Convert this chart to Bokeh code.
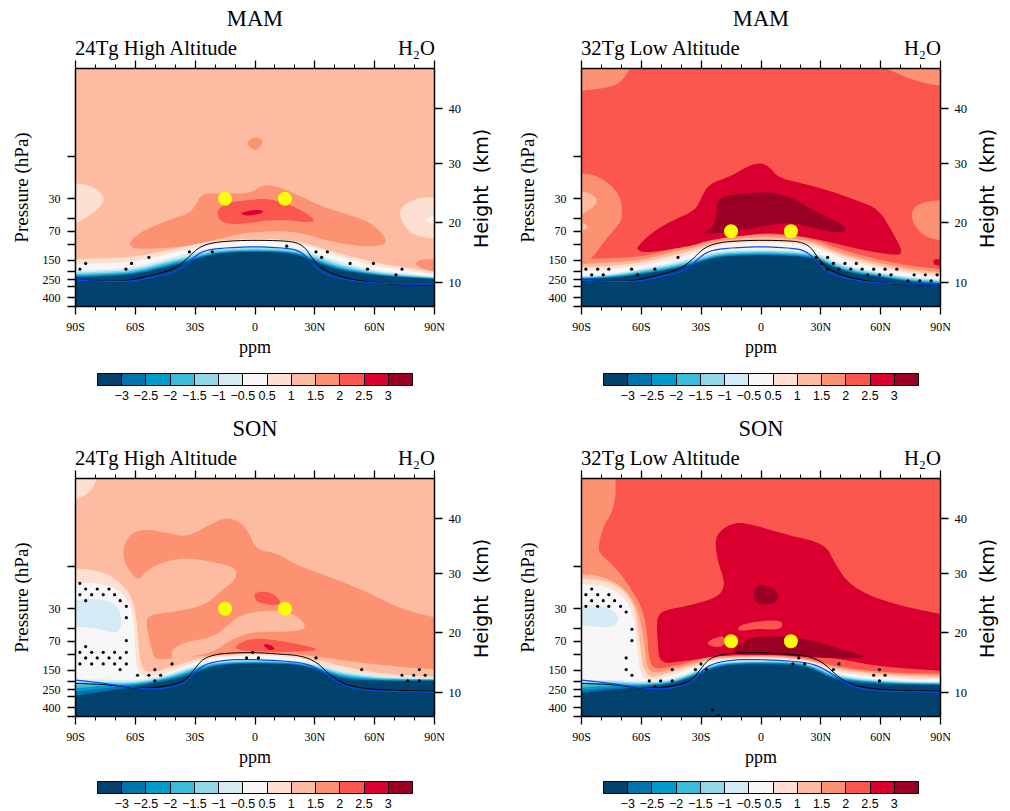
import numpy as np
from bokeh.embed import file_html
from bokeh.resources import INLINE
from bokeh.plotting import figure
from bokeh.layouts import column, row
from bokeh.models import (AllLabels, ColorBar, FixedTicker, Label, LinearAxis, LinearColorMapper, Range1d)

# colour bands: lower bound of each band (ppm), the colours, and the colour-bar labels
BAND_BOUNDS = [-4, -3, -2.5, -2, -1.5, -1, -0.5, 0.5, 1, 1.5, 2, 2.5, 3]
BAND_COLORS = ["#02426f", "#0072ae", "#0099cb", "#3bbcdb", "#92d7e9", "#d2ebf4", "#f7f7f7",
               "#fee0d2", "#fdbba1", "#fc9272", "#fb574f", "#d90030", "#990024"]
BAR_LABELS = ["−3", "−2.5", "−2", "−1.5", "−1", "−0.5", "0.5", "1", "1.5", "2", "2.5", "3"]

LAT_TICKS = [-90, -60, -30, 0, 30, 60, 90]
LAT_LABELS = ["90S", "60S", "30S", "0", "30N", "60N", "90N"]
LAT_MINOR = [-80, -70, -50, -40, -20, -10, 10, 20, 40, 50, 70, 80]
HPA_TICKS = [10, 30, 50, 70, 100, 150, 200, 250, 300, 400, 500]
HPA_LABELS = ["", "30", "", "70", "", "150", "", "250", "", "400", ""]
KM_TICK_HPA = [269, 55.9, 12.05, 2.87]
KM_LABELS = ["10", "20", "30", "40"]
SITE_LATS = [-15, 15]

# contour outlines: latitude (deg) and log10(pressure / hPa)
BAND_LAT = [-90, -75, -60, -45, -35, -28, -20, -10, 0, 10, 20, 28, 35, 45, 60, 75, 90]

MAM_BLACK_LAT = [-90, -77.8, -64.4, -57.7, -49.3, -41, -36, -31.8, -27.6, -20.9, -10.9, 0, 14.2, 20.9, 25.1, 28.4, 32.6, 39.3, 47.7, 59.4, 72.7, 90]
MAM_BLACK_LP = [2.400, 2.415, 2.408, 2.377, 2.332, 2.276, 2.200, 2.105, 2.022, 1.973, 1.954, 1.947, 1.954, 1.973, 2.030, 2.143, 2.257, 2.332, 2.389, 2.427, 2.453, 2.453]
MAM_BLUE_LAT = [-90, -77.8, -61, -52.7, -41, -36, -30.9, -25.9, -17.6, 0, 15.9, 22.6, 28.4, 33.4, 41, 52.7, 64.4, 76.1, 90]
MAM_BLUE_LP = [2.400, 2.415, 2.415, 2.370, 2.313, 2.257, 2.143, 2.068, 2.037, 2.019, 2.037, 2.068, 2.200, 2.313, 2.377, 2.419, 2.438, 2.446, 2.446]
SON_BLACK_LAT = [-90, -77.8, -67.7, -59.4, -49.3, -39.3, -34.3, -30.1, -25.9, -19.2, -10.9, 0, 12.5, 22.6, 30.9, 37.6, 44.3, 52.7, 64.4, 90]
SON_BLACK_LP = [2.325, 2.332, 2.355, 2.381, 2.370, 2.332, 2.279, 2.155, 2.041, 1.992, 1.977, 1.973, 1.992, 2.007, 2.079, 2.230, 2.332, 2.374, 2.400, 2.412]
SON_BLUE_LAT = [-90, -81.1, -69.4, -57.7, -47.7, -37.6, -32.6, -27.6, -20.9, -10.9, 0, 14.2, 25.9, 34.3, 41, 49.3, 59.4, 90]
SON_BLUE_LP = [2.287, 2.306, 2.344, 2.381, 2.389, 2.344, 2.268, 2.136, 2.079, 2.053, 2.053, 2.068, 2.098, 2.192, 2.306, 2.381, 2.412, 2.423]

# ---- MAM 24Tg High Altitude
mam24_regions = [
    (0.5, [-90, -84.4, -79.4, -76, -75.8, -78.6, -83.6, -90], [1.300, 1.319, 1.368, 1.444, 1.501, 1.595, 1.682, 1.754]),
    (0.5, [90, 82.8, 76.1, 72.2, 73.6, 79.4, 90], [1.463, 1.463, 1.520, 1.614, 1.746, 1.898, 1.928]),
    (-0.5, [90, 84.4, 90], [1.671, 1.716, 1.758]),
    (1.5, [-3.3, 0, 3.3, 3.8, 1.2, -1.7, -3.7], [0.82, 0.771, 0.801, 0.851, 0.926, 0.915, 0.858]),
    (1.5, [-62.7, -62.4, -57.7, -49.3, -39.3, -32.6, -29.3, -28.1, -25.1, -14.2, -5.9, -0.8, 2.5, 6.7, 12.5, 22.6, 32.6, 46, 56, 62.7, 66, 64.4, 56, 39.3, 22.6, 10.9, -4.2, -19.2, -27.6, -44.3, -57.7],
     [2.022, 1.954, 1.860, 1.773, 1.690, 1.633, 1.538, 1.463, 1.418, 1.418, 1.418, 1.395, 1.342, 1.319, 1.349, 1.444, 1.557, 1.652, 1.727, 1.841, 1.947, 2.003, 2.022, 1.973, 1.860, 1.841, 1.860, 1.935, 1.992, 2.037, 2.049]),
    (1.5, [90, 82.8, 79.9, 84.4, 90], [2.162, 2.162, 2.219, 2.276, 2.302]),
    (2, [-18.9, -18.4, -14.2, -4.2, 5.9, 14.2, 22.6, 30.9, 25.9, 15.9, 5.9, -4.2, -12.5, -17.6],
     [1.652, 1.595, 1.520, 1.493, 1.474, 1.520, 1.595, 1.727, 1.746, 1.720, 1.720, 1.758, 1.765, 1.727]),
    (2.5, [-7.5, -3.3, 1.7, 5, 0.8, -5], [1.641, 1.614, 1.599, 1.622, 1.660, 1.671]),
]
mam24_curves = [
    (0.5, BAND_LAT, [2.162, 2.151, 2.136, 2.068, 2.022, 1.981, 1.954, 1.939, 1.928, 1.935, 1.954, 2.000, 2.049, 2.113, 2.200, 2.257, 2.306]),
    (-0.5, BAND_LAT, [2.219, 2.211, 2.189, 2.113, 2.060, 2.022, 1.985, 1.954, 1.947, 1.954, 1.977, 2.022, 2.075, 2.151, 2.238, 2.287, 2.332]),
    (-1, BAND_LAT, [2.294, 2.279, 2.257, 2.162, 2.105, 2.068, 2.037, 2.022, 2.015, 2.022, 2.037, 2.075, 2.136, 2.211, 2.287, 2.325, 2.355]),
    (-1.5, BAND_LAT, [2.313, 2.302, 2.279, 2.189, 2.136, 2.094, 2.060, 2.041, 2.037, 2.041, 2.060, 2.105, 2.166, 2.238, 2.306, 2.340, 2.366]),
    (-2, BAND_LAT, [2.332, 2.321, 2.298, 2.211, 2.158, 2.113, 2.075, 2.056, 2.053, 2.056, 2.075, 2.128, 2.192, 2.260, 2.321, 2.351, 2.374]),
    (-2.5, BAND_LAT, [2.347, 2.336, 2.313, 2.230, 2.174, 2.128, 2.087, 2.068, 2.064, 2.068, 2.087, 2.143, 2.211, 2.276, 2.332, 2.359, 2.381]),
    (-3, BAND_LAT, [2.359, 2.347, 2.325, 2.245, 2.189, 2.139, 2.094, 2.075, 2.071, 2.075, 2.094, 2.158, 2.226, 2.287, 2.340, 2.366, 2.385]),
    (-4, BAND_LAT, [2.370, 2.359, 2.336, 2.257, 2.200, 2.151, 2.105, 2.083, 2.079, 2.083, 2.105, 2.170, 2.238, 2.298, 2.347, 2.370, 2.389]),
]
mam24_dot_lat = [-87.8, -84.9, -64.7, -61.9, -53.2, -32.9, -21.4, 15.9, 30.6, 33.4, 36.3, 47.7, 56.4, 59.4, 70.7, 73.7]
mam24_dot_lp = [2.276, 2.211, 2.276, 2.211, 2.143, 2.079, 2.079, 2.015, 2.079, 2.143, 2.079, 2.211, 2.276, 2.211, 2.340, 2.276]

# ---- MAM 32Tg Low Altitude
mam32_regions = [
    (1.5, [-90, -65.7, -67.9, -71.6, -78.3, -90], [0, 0, 0.083, 0.178, 0.223, 0.253]),
    (1.5, [63, 90, 90, 80.6, 70.6], [0, 0, 0.197, 0.159, 0.083]),
    (1.5, [-90, -83.3, -76.6, -70.7, -69.6, -69.9, -74.1, -78.3, -84.6, -90], [1.191, 1.206, 1.293, 1.444, 1.595, 1.727, 1.841, 1.954, 2.151, 2.219]),
    (1, [-90, -84.9, -81.9, -83.3, -87.5, -90], [1.387, 1.425, 1.489, 1.557, 1.622, 1.659]),
    (1, [-90, -86.9, -86.9, -90], [1.746, 1.773, 1.822, 1.833]),
    (1.5, [90, 82.3, 76.4, 75.3, 78.1, 83.1, 90], [1.493, 1.508, 1.576, 1.690, 1.822, 1.916, 1.947]),
    (2.5, [-62.4, -61.5, -54.8, -44.8, -33.1, -29.8, -26.4, -14.7, -6.4, 0.3, 4.5, 8.7, 18.7, 32.1, 48.8, 58.9, 65.6, 71.4, 67.6, 48.8, 32.1, 13.7, 0, -11.4, -24.7, -41.5, -58.2],
     [2.049, 2.011, 1.860, 1.727, 1.614, 1.463, 1.312, 1.217, 1.104, 1.066, 1.123, 1.236, 1.293, 1.368, 1.501, 1.595, 1.841, 2.087, 2.124, 2.049, 1.954, 1.879, 1.867, 1.916, 1.992, 2.037, 2.094]),
    (3, [-29.8, -26.4, -23.4, -22.2, -21.7, -18.1, -8, 5.4, 15.4, 25.4, 33.8, 43, 41.3, 32.1, 22.1, 13.7, 2, -11.4, -21.4],
     [1.871, 1.841, 1.773, 1.614, 1.501, 1.444, 1.418, 1.399, 1.463, 1.595, 1.690, 1.803, 1.867, 1.841, 1.784, 1.746, 1.784, 1.841, 1.871]),
    (2.5, [86.5, 90, 90, 86.5], [2.162, 2.162, 2.238, 2.226]),
]
mam32_curves = [
    (1.5, BAND_LAT, [2.162, 2.151, 2.136, 2.049, 2.011, 1.962, 1.924, 1.898, 1.879, 1.890, 1.909, 1.947, 2.011, 2.087, 2.174, 2.238, 2.276]),
    (1, BAND_LAT, [2.219, 2.200, 2.174, 2.087, 2.037, 1.992, 1.954, 1.924, 1.909, 1.920, 1.939, 1.977, 2.049, 2.124, 2.211, 2.276, 2.310]),
    (0.5, BAND_LAT, [2.257, 2.238, 2.204, 2.124, 2.068, 2.022, 1.977, 1.947, 1.939, 1.947, 1.962, 2.003, 2.075, 2.151, 2.242, 2.302, 2.332]),
    (-0.5, BAND_LAT, [2.287, 2.272, 2.234, 2.162, 2.105, 2.053, 2.000, 1.977, 1.973, 1.977, 1.992, 2.030, 2.105, 2.189, 2.272, 2.325, 2.355]),
    (-1, BAND_LAT, [2.355, 2.332, 2.272, 2.208, 2.151, 2.105, 2.068, 2.056, 2.049, 2.056, 2.068, 2.094, 2.162, 2.249, 2.313, 2.362, 2.393]),
    (-1.5, BAND_LAT, [2.362, 2.344, 2.287, 2.226, 2.170, 2.124, 2.083, 2.071, 2.068, 2.071, 2.083, 2.113, 2.185, 2.268, 2.328, 2.377, 2.408]),
    (-2, BAND_LAT, [2.370, 2.355, 2.302, 2.245, 2.189, 2.143, 2.098, 2.087, 2.083, 2.087, 2.098, 2.128, 2.208, 2.287, 2.340, 2.393, 2.419]),
    (-2.5, BAND_LAT, [2.377, 2.362, 2.317, 2.260, 2.204, 2.158, 2.113, 2.102, 2.098, 2.102, 2.113, 2.143, 2.223, 2.302, 2.351, 2.408, 2.427]),
    (-3, BAND_LAT, [2.381, 2.370, 2.328, 2.272, 2.215, 2.170, 2.124, 2.113, 2.109, 2.113, 2.124, 2.155, 2.234, 2.313, 2.359, 2.415, 2.434]),
    (-4, BAND_LAT, [2.389, 2.377, 2.336, 2.279, 2.223, 2.177, 2.132, 2.121, 2.117, 2.121, 2.132, 2.162, 2.242, 2.321, 2.366, 2.423, 2.442]),
]
mam32_dot_lat = [-87.8, -81.9, -76.3, -84.9, -79.1, -64.9, -61.9, -53.2, -41.6, 27.6, 33.4, 30.4, 36.3, 42.1, 47.8, 33.4, 39.1, 45, 50.7, 56.5, 62.2, 68.1, 53.5, 59.4, 65.2, 76.8, 82.4, 88.3, 73.7, 79.6, 85.3]
mam32_dot_lp = [2.276, 2.276, 2.276, 2.340, 2.340, 2.276, 2.340, 2.276, 2.143, 2.143, 2.143, 2.211, 2.211, 2.211, 2.211, 2.276, 2.276, 2.276, 2.276, 2.276, 2.276, 2.276, 2.340, 2.340, 2.340, 2.340, 2.340, 2.340, 2.408, 2.408, 2.408]

# ---- SON 24Tg High Altitude
son24_regions = [
    (0.5, [-90, -79.4, -80.8, -85.3, -90], [0, 0, 0.094, 0.200, 0.238]),
    (1.5, [-66.1, -65.2, -61, -54.3, -44.3, -35.1, -27.6, -20.9, -14.2, -7.5, -3.3, 0.8, 10.9, 19.2, 32.6, 46, 59.4, 72.7, 90, 90, 72.7, 59.9, 46, 30.1, 15.9, 0, -19.9, -27.6, -41.8, -50.2, -51.8, -54.7, -53.5, -41, -27.6, -20.9, -18.4, -10.9, -8.9, -10.9, -20.9, -34.3, -46, -54.3, -58.5, -61.9, -65.2],
     [0.851, 0.718, 0.605, 0.575, 0.616, 0.662, 0.586, 0.503, 0.442, 0.491, 0.605, 0.813, 0.843, 0.964, 1.077, 1.191, 1.323, 1.474, 1.576, 2.166, 2.136, 2.105, 2.068, 2.015, 1.985, 1.977, 2.003, 2.015, 2.041, 2.053, 1.947, 1.644, 1.550, 1.512, 1.455, 1.361, 1.297, 1.172, 1.077, 1.002, 0.945, 0.900, 0.945, 1.040, 1.160, 1.077, 0.964]),
    (1, [-41.8, -41.3, -34.3, -20.9, -14.2, -9.2, -0.8, 10.9, 19.2, 25.1, 24.6, 14.2, -0.8, -8.4, -14.2, -19.9, -27.6, -37.6, -41.8],
     [2.003, 1.928, 1.852, 1.796, 1.682, 1.569, 1.512, 1.493, 1.531, 1.644, 1.720, 1.739, 1.739, 1.796, 1.860, 1.958, 2.003, 2.041, 2.041]),
    (2, [0, 4.2, 9.2, 13.4, 10.9, 5.9, 0.8, -0.3], [1.297, 1.278, 1.304, 1.410, 1.436, 1.429, 1.399, 1.342]),
    (2, [-10.9, -7.5, 0.8, 10.9, 22.6, 33.8, 19.2, 5.9], [1.947, 1.852, 1.811, 1.833, 1.882, 1.947, 1.966, 1.966]),
    (2.5, [3.8, 7.5, 10.5, 6.7], [1.879, 1.879, 1.939, 1.947]),
]
son24_curves = [
    (0.5, [-90, -82.8, -74.4, -66.9, -61.9, -59.4, -58.5, -57.4, -55.2, -49.3, -45, -35, -28, -20, -10, 0, 10, 20, 28, 35, 45, 60, 75, 90],
     [1.021, 1.032, 1.077, 1.191, 1.342, 1.569, 1.871, 2.098, 2.192, 2.192, 2.155, 2.090, 2.041, 2.015, 1.996, 1.985, 1.992, 2.011, 2.041, 2.079, 2.136, 2.200, 2.230, 2.249]),
    (-0.5, [-90, -77.9, -69.5, -63.6, -60.7, -60.2, -59.4, -57.7, -52.7, -45, -35, -28, -20, -10, 0, 10, 20, 28, 35, 45, 60, 75, 90],
     [1.183, 1.183, 1.247, 1.380, 1.569, 1.871, 2.136, 2.219, 2.249, 2.211, 2.128, 2.068, 2.030, 2.015, 2.003, 2.015, 2.030, 2.068, 2.128, 2.181, 2.238, 2.268, 2.279]),
    (-1, BAND_LAT, [2.279, 2.279, 2.294, 2.230, 2.155, 2.105, 2.068, 2.060, 2.056, 2.060, 2.068, 2.090, 2.128, 2.181, 2.238, 2.260, 2.268]),
    (-1.5, BAND_LAT, [2.306, 2.306, 2.313, 2.249, 2.174, 2.124, 2.083, 2.071, 2.068, 2.071, 2.079, 2.105, 2.147, 2.211, 2.253, 2.268, 2.272]),
    (-2, BAND_LAT, [2.344, 2.325, 2.325, 2.264, 2.192, 2.139, 2.094, 2.079, 2.075, 2.079, 2.087, 2.117, 2.162, 2.230, 2.264, 2.276, 2.279]),
    (-2.5, BAND_LAT, [2.381, 2.344, 2.336, 2.276, 2.211, 2.155, 2.105, 2.087, 2.083, 2.087, 2.094, 2.128, 2.177, 2.249, 2.276, 2.283, 2.283]),
    (-3, BAND_LAT, [2.419, 2.374, 2.347, 2.287, 2.230, 2.170, 2.117, 2.094, 2.090, 2.094, 2.102, 2.139, 2.192, 2.264, 2.287, 2.291, 2.291]),
    (-4, BAND_LAT, [2.465, 2.412, 2.362, 2.298, 2.249, 2.185, 2.124, 2.102, 2.098, 2.102, 2.109, 2.147, 2.204, 2.279, 2.294, 2.298, 2.294]),
]
son24_late = [
    (-1, [-90, -82.8, -74.4, -68.6, -66.9, -67.4, -71.1, -77.8, -90], [1.380, 1.361, 1.380, 1.455, 1.569, 1.720, 1.758, 1.701, 1.682]),
]
son24_dot_lat = [-87.8, -84.9, -79.1, -73.2, -87.8, -81.9, -76.1, -70.4, -84.9, -67.6, -64.5, -64.5, -64.5, -84.9, -87.8, -81.9, -76.1, -70.4, -64.5, -84.9, -79.1, -73.2, -67.6, -87.8, -81.9, -76.1, -70.4, -64.5, -67.6, -50.2, -58.9, -53.2, -47.3, -50.2, -41.6, -4.2, 1.7, -1.2, 30.6, 53.5, 82.4, 73.7, 79.6, 85.3, 76.6, 82.4]
son24_dot_lp = [1.189, 1.253, 1.253, 1.253, 1.317, 1.317, 1.317, 1.317, 1.385, 1.385, 1.450, 1.578, 1.838, 1.906, 1.971, 1.971, 1.971, 1.971, 1.971, 2.035, 2.035, 2.035, 2.035, 2.103, 2.103, 2.103, 2.103, 2.103, 2.167, 2.167, 2.231, 2.231, 2.231, 2.295, 2.103, 2.035, 2.035, 1.971, 2.035, 2.167, 2.167, 2.231, 2.231, 2.231, 2.295, 2.295]

# ---- SON 32Tg Low Altitude
son32_regions = [
    (2.5, [-52.3, -51.5, -48.2, -34.8, -21.4, -18.4, -18.9, -21.4, -23.1, -21.4, -13, -3, 13.7, 32.1, 37.1, 43.8, 55.5, 72.2, 90, 90, 72.2, 55.5, 38.8, 15.4, -11.4, -24.7, -38.1, -50.7, -51.8],
     [1.644, 1.550, 1.493, 1.436, 1.342, 1.229, 1.115, 0.964, 0.737, 0.605, 0.491, 0.529, 0.643, 0.737, 0.964, 1.191, 1.342, 1.455, 1.538, 2.181, 2.155, 2.117, 2.041, 2.003, 2.003, 2.030, 2.068, 2.105, 1.871]),
    (3, [-3.8, -2.2, 1.2, 6.2, 8.7, 7.9, 2.8, -3], [1.304, 1.221, 1.202, 1.247, 1.323, 1.399, 1.436, 1.410]),
    (3, [-14.7, -11.4, -4.7, 3.7, 13.7, 25.4, 38.8, 55.5, 38.8, 22.1, 5.4, -11.4], [1.966, 1.890, 1.803, 1.788, 1.796, 1.833, 1.928, 2.030, 2.041, 2.022, 1.996, 1.985]),
    (2, [-11.9, -10.5, -3, 5.4, 11.4, 9.5, -1.3, -8], [1.720, 1.663, 1.625, 1.607, 1.625, 1.720, 1.701, 1.727]),
    (2, [-27.6, -23.9, -18.9, -18.1, -18.9, -23.9], [1.871, 1.814, 1.784, 1.833, 1.909, 1.909]),
]
son32_curves = [
    (1.5, [-90, -72.9, -72.9, -74.9, -78.8, -81.3, -81.3, -73.2, -65.7, -59, -56.9, -56.2, -54, -45, -35, -28, -20, -10, 0, 10, 20, 28, 35, 45, 60, 75, 90],
     [0, 0, 0.208, 0.397, 0.529, 0.737, 0.843, 1.002, 1.229, 1.493, 1.796, 2.041, 2.166, 2.136, 2.079, 2.030, 2.015, 2.003, 2.003, 2.011, 2.030, 2.068, 2.117, 2.155, 2.192, 2.211, 2.211]),
    (1, [-90, -81.6, -71.6, -64.9, -60.7, -58.5, -57.4, -54, -45, -35, -28, -20, -10, 0, 10, 20, 28, 35, 45, 60, 75, 90],
     [1.085, 1.096, 1.191, 1.342, 1.569, 1.871, 2.136, 2.211, 2.166, 2.109, 2.053, 2.030, 2.019, 2.015, 2.022, 2.041, 2.079, 2.136, 2.174, 2.211, 2.230, 2.234]),
    (0.5, [-90, -78.3, -69.9, -64, -61.9, -60.4, -59, -54.8, -45, -35, -28, -20, -10, 0, 10, 20, 28, 35, 45, 60, 75, 90],
     [1.134, 1.153, 1.247, 1.418, 1.644, 1.947, 2.174, 2.268, 2.192, 2.128, 2.068, 2.041, 2.030, 2.026, 2.034, 2.053, 2.090, 2.155, 2.192, 2.230, 2.249, 2.257]),
    (-0.5, [-90, -79.9, -71.6, -65.7, -62.9, -61.9, -60.7, -56.5, -45, -35, -28, -20, -10, 0, 10, 20, 28, 35, 45, 60, 75, 90],
     [1.198, 1.210, 1.285, 1.436, 1.682, 1.947, 2.211, 2.306, 2.230, 2.155, 2.090, 2.053, 2.041, 2.037, 2.045, 2.064, 2.105, 2.174, 2.219, 2.257, 2.272, 2.279]),
    (-1, BAND_LAT, [2.287, 2.279, 2.306, 2.279, 2.192, 2.128, 2.079, 2.068, 2.064, 2.068, 2.079, 2.121, 2.192, 2.249, 2.279, 2.298, 2.306]),
    (-1.5, BAND_LAT, [2.306, 2.298, 2.321, 2.294, 2.211, 2.143, 2.090, 2.075, 2.071, 2.075, 2.087, 2.136, 2.211, 2.264, 2.294, 2.310, 2.313]),
    (-2, BAND_LAT, [2.344, 2.317, 2.332, 2.306, 2.226, 2.155, 2.098, 2.083, 2.079, 2.083, 2.094, 2.147, 2.226, 2.276, 2.306, 2.317, 2.321]),
    (-2.5, BAND_LAT, [2.374, 2.344, 2.344, 2.317, 2.238, 2.166, 2.105, 2.090, 2.087, 2.090, 2.102, 2.158, 2.242, 2.287, 2.313, 2.325, 2.328]),
    (-3, BAND_LAT, [2.400, 2.370, 2.355, 2.325, 2.249, 2.177, 2.113, 2.098, 2.094, 2.098, 2.109, 2.170, 2.253, 2.298, 2.321, 2.332, 2.336]),
    (-4, BAND_LAT, [2.431, 2.393, 2.366, 2.336, 2.260, 2.189, 2.124, 2.109, 2.105, 2.109, 2.121, 2.181, 2.264, 2.310, 2.332, 2.340, 2.344]),
]
son32_late = [
    (-1, [-90, -84.9, -78.3, -72.4, -71.2, -74.1, -79.9, -90], [1.448, 1.429, 1.455, 1.531, 1.607, 1.682, 1.690, 1.663]),
]
son32_dot_lat = [-84.9, -87.8, -81.9, -76.3, -84.9, -79.1, -73.4, -87.8, -81.9, -76.3, -70.4, -67.6, -64.7, -64.7, -67.6, -67.6, -64.7, -56, -50.3, -44.5, -53.2, -44.5, -32.9, -30.1, -27.3, -24.2, -21.4, 18.9, 16, 21.9, 36.3, 39.1, 59.4, 56.5, 62.2, 59.4]
son32_dot_lp = [1.253, 1.317, 1.317, 1.317, 1.385, 1.385, 1.385, 1.450, 1.450, 1.450, 1.450, 1.514, 1.710, 1.838, 2.035, 2.167, 2.231, 2.295, 2.295, 2.295, 2.359, 2.167, 2.167, 2.103, 2.167, 2.624, 2.688, 2.035, 2.103, 2.103, 2.167, 2.103, 2.167, 2.231, 2.231, 2.295]

FRAME_W, FRAME_H = 359, 238
TOP_HPA, BOTTOM_HPA = 1, 500
MAIN_W, LEFT_BORDER, TOP_BORDER, STRIP_H = 466, 75, 8, 60


def color_of(bound):
    return BAND_COLORS[BAND_BOUNDS.index(bound)]


def smooth(lat, lp, closed):
    """Round the drawn outline (corner cutting); vertices on the plot's edge stay where they are."""
    pts = list(zip(lat, lp))
    for _ in range(2):
        new = []
        n = len(pts)
        edges = n if closed else n - 1
        for i in range(edges):
            a, b = pts[i], pts[(i + 1) % n]
            a_fixed = abs(a[0]) >= 90 or a[1] <= 0
            b_fixed = abs(b[0]) >= 90 or b[1] <= 0
            if a_fixed:
                new.append(a)
            else:
                new.append((0.75 * a[0] + 0.25 * b[0], 0.75 * a[1] + 0.25 * b[1]))
            if not b_fixed:
                new.append((0.25 * a[0] + 0.75 * b[0], 0.25 * a[1] + 0.75 * b[1]))
        if not closed:
            new.append(pts[-1])
        pts = new
    xs, ys = zip(*pts)
    return list(xs), list(np.power(10.0, ys))


def make_strip(season, name, width, title_y, sub_y):
    s = figure(width=width, height=STRIP_H, output_backend="svg", toolbar_location=None,
               x_range=Range1d(0, 1), y_range=Range1d(0, 1), x_axis_location=None, y_axis_location=None,
               min_border=0, outline_line_color=None)
    s.grid.visible = False
    font = "Liberation Serif"
    s.add_layout(Label(x=LEFT_BORDER + FRAME_W / 2, y=title_y, x_units="screen", y_units="screen", text=season,
                       text_font=font, text_font_size="22.5px", text_align="center",
                       text_baseline="alphabetic", text_color="black"))
    s.add_layout(Label(x=LEFT_BORDER - 0.5, y=sub_y, x_units="screen", y_units="screen", text=name,
                       text_font=font, text_font_size="20.7px", text_align="left",
                       text_baseline="alphabetic", text_color="black"))
    s.add_layout(Label(x=LEFT_BORDER + FRAME_W + 0.5, y=sub_y, x_units="screen", y_units="screen", text="H₂O",
                       text_font=font, text_font_size="20.7px", text_align="right",
                       text_baseline="alphabetic", text_color="black"))
    return s


def make_side(width, height, center_y):
    s = figure(width=width, height=height, output_backend="svg", toolbar_location=None,
               x_range=Range1d(0, 1), y_range=Range1d(0, 1), x_axis_location=None, y_axis_location=None,
               min_border=0, outline_line_color=None)
    s.grid.visible = False
    s.add_layout(Label(x=14, y=center_y, x_units="screen", y_units="screen", text="Height \u00a0(km)",
                       text_font="DejaVu Sans", text_font_size="19px", text_align="center",
                       text_baseline="middle", angle=np.pi / 2, text_color="black"))
    return s


def make_panel(background, regions, curves, late, dot_lat, dot_lp,
               black, blue, site_hpa, height, bar_y, ppm_standoff):
    p = figure(width=MAIN_W, height=height, output_backend="svg", toolbar_location=None,
               x_range=Range1d(-90, 90), y_range=Range1d(BOTTOM_HPA, TOP_HPA), y_axis_type="log",
               x_axis_location=None, y_axis_location=None,
               min_border_left=LEFT_BORDER, min_border_top=TOP_BORDER,
               min_border_right=MAIN_W - LEFT_BORDER - FRAME_W,
               min_border_bottom=height - TOP_BORDER - FRAME_H,
               background_fill_color=color_of(background), outline_line_color=None)
    p.grid.visible = False

    for bound, lats, lps in regions:
        xs, ys = smooth(lats, lps, True)
        p.patch(xs, ys, fill_color=color_of(bound), line_color=None)
    for bound, lats, lps in curves:
        xs, ys = smooth(lats, lps, False)
        p.patch(xs + [90, -90], ys + [BOTTOM_HPA, BOTTOM_HPA], fill_color=color_of(bound), line_color=None)
    for bound, lats, lps in late:
        xs, ys = smooth(lats, lps, True)
        p.patch(xs, ys, fill_color=color_of(bound), line_color=None)

    xs, ys = smooth(black[0], black[1], False)
    p.line(xs, ys, line_color="black", line_width=1)
    xs, ys = smooth(blue[0], blue[1], False)
    p.line(xs, ys, line_color="#0d47f0", line_width=1.2)
    p.scatter(dot_lat, np.power(10.0, dot_lp), size=3.2, fill_color="black", line_color=None)
    p.scatter(SITE_LATS, [site_hpa] * 2, size=14, fill_color="#ffff00", line_color=None)

    # axes
    def style(ax, size="12px"):
        ax.axis_line_width = 1.5
        ax.major_tick_line_width = 1.3
        ax.minor_tick_line_width = 1
        ax.major_tick_out = 8
        ax.major_tick_in = 0
        ax.minor_tick_out = 4
        ax.minor_tick_in = 0
        ax.major_label_text_font = "Liberation Serif"
        ax.major_label_text_font_size = size
        ax.major_label_text_color = "black"

    bottom = LinearAxis(ticker=FixedTicker(ticks=LAT_TICKS, minor_ticks=LAT_MINOR),
                        major_label_overrides=dict(zip(LAT_TICKS, LAT_LABELS)),
                        axis_label="ppm", axis_label_text_font="Liberation Serif",
                        axis_label_text_font_size="18px", axis_label_text_font_style="normal",
                        axis_label_text_color="black", axis_label_standoff=ppm_standoff,
                        major_label_standoff=5, major_label_policy=AllLabels())
    style(bottom)
    top = LinearAxis(ticker=FixedTicker(ticks=LAT_TICKS, minor_ticks=LAT_MINOR),
                     major_label_overrides={t: "" for t in LAT_TICKS}, major_label_standoff=0)
    style(top)
    left = LinearAxis(ticker=FixedTicker(ticks=HPA_TICKS),
                      major_label_overrides=dict(zip(HPA_TICKS, HPA_LABELS)),
                      axis_label="Pressure (hPa)", axis_label_text_font="Liberation Serif",
                      axis_label_text_font_size="19px", axis_label_text_font_style="normal",
                      axis_label_text_color="black", axis_label_standoff=8,
                      major_label_standoff=7, major_label_policy=AllLabels())
    style(left)
    right = LinearAxis(ticker=FixedTicker(ticks=KM_TICK_HPA),
                       major_label_overrides=dict(zip(KM_TICK_HPA, KM_LABELS)),
                       major_label_standoff=6)
    style(right, "12.5px")
    p.add_layout(bottom, "below")
    p.add_layout(top, "above")
    p.add_layout(left, "left")
    p.add_layout(right, "right")

    # colour bar
    ticks = list(range(1, len(BAND_COLORS)))
    mapper = LinearColorMapper(palette=BAND_COLORS, low=0, high=len(BAND_COLORS))
    bar = ColorBar(color_mapper=mapper, ticker=FixedTicker(ticks=ticks), orientation="horizontal",
                   major_label_overrides=dict(zip(ticks, BAR_LABELS)), width=315, height=12,
                   location=(22, bar_y), padding=0, margin=0, label_standoff=5,
                   major_label_policy=AllLabels(),
                   major_tick_in=12, major_tick_out=0, major_tick_line_color="black",
                   major_tick_line_width=1, minor_tick_line_color=None,
                   bar_line_color="black", bar_line_width=1, border_line_color=None,
                   background_fill_color=None, major_label_text_font="Liberation Sans",
                   major_label_text_font_size="12.5px", major_label_text_color="black")
    p.add_layout(bar, "center")
    return p


def assemble(season, name, panel, total_w, strip_title_y, strip_sub_y, label_y):
    side = make_side(total_w - MAIN_W, panel.height, label_y)
    return column(make_strip(season, name, total_w, strip_title_y, strip_sub_y),
                  row(panel, side, spacing=0), spacing=0)


p1 = make_panel(1, mam24_regions, mam24_curves, [], mam24_dot_lat, mam24_dot_lp,
                (MAM_BLACK_LAT, MAM_BLACK_LP), (MAM_BLUE_LAT, MAM_BLUE_LP), 30, 350, -96, 0)
p2 = make_panel(2, mam32_regions, mam32_curves, [], mam32_dot_lat, mam32_dot_lp,
                (MAM_BLACK_LAT, MAM_BLACK_LP), (MAM_BLUE_LAT, MAM_BLUE_LP), 70, 350, -96, 0)
p3 = make_panel(1, son24_regions, son24_curves, son24_late, son24_dot_lat, son24_dot_lp,
                (SON_BLACK_LAT, SON_BLACK_LP), (SON_BLUE_LAT, SON_BLUE_LP), 30, 339, -94, 0)
p4 = make_panel(2, son32_regions, son32_curves, son32_late, son32_dot_lat, son32_dot_lp,
                (SON_BLACK_LAT, SON_BLACK_LP), (SON_BLUE_LAT, SON_BLUE_LP), 70, 339, -94, 0)

top_row = row(assemble("MAM", "24Tg High Altitude", p1, 506, 42, 13, 118),
              assemble("MAM", "32Tg Low Altitude", p2, 502, 42, 13, 118), spacing=0)
bottom_row = row(assemble("SON", "24Tg High Altitude", p3, 506, 42, 13, 118),
                 assemble("SON", "32Tg Low Altitude", p4, 502, 42, 13, 118), spacing=0)
page = column(top_row, bottom_row, spacing=0)
open("out.html", "w").write(file_html(page, INLINE))
